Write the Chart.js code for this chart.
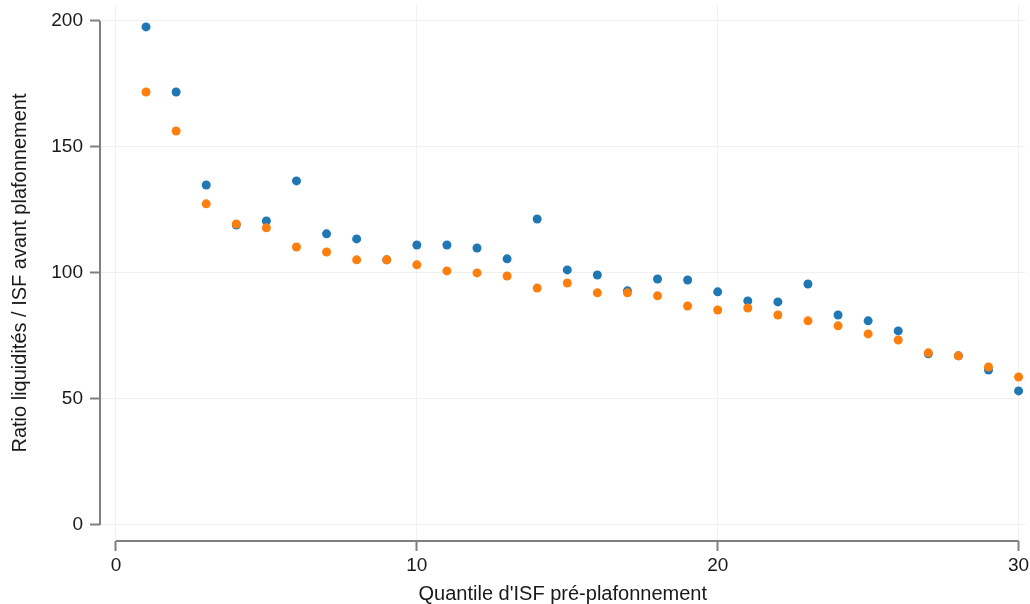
<!DOCTYPE html>
<html>
<head>
<meta charset="utf-8">
<script src="https://cdn.jsdelivr.net/npm/chart.js@4"></script>
<style>
    html, body { margin: 0; padding: 0; background: #fff; }
    #wrap { width: 1030px; height: 604px; position: relative; }
</style>
</head>
<body>
<div id="wrap"><canvas id="ratio_chart"></canvas></div>
<script>
// Quantiles d'ISF (1..30)
var quantiles = [1, 2, 3, 4, 5, 6, 7, 8, 9, 10, 11, 12, 13, 14, 15,
                 16, 17, 18, 19, 20, 21, 22, 23, 24, 25, 26, 27, 28, 29, 30]

// Serie bleue
var seriesBlue = [197.6, 171.8, 134.9, 119.0, 120.6, 136.5, 115.5, 113.5, 105.2, 111.1,
                  111.1, 109.9, 105.6, 121.4, 101.2, 99.2, 92.9, 97.6, 97.2, 92.5,
                  88.9, 88.5, 95.6, 83.3, 81.0, 77.0, 67.9, 67.1, 61.5, 53.2]

// Serie orange
var seriesOrange = [171.8, 156.3, 127.4, 119.4, 117.9, 110.3, 108.3, 105.2, 105.2, 103.2,
                    100.8, 100.0, 98.8, 94.0, 96.0, 92.1, 92.1, 90.9, 86.9, 85.3,
                    86.1, 83.3, 81.0, 79.0, 75.8, 73.4, 68.3, 67.1, 62.7, 58.7]

var xTicks = [0, 10, 20, 30]
var yTicks = [0, 50, 100, 150, 200]

var axisColor = '#808080'
var gridColor = '#f0f0f0'

function toPoints(values) {
    return quantiles.map(function (q, i) {
        return { x: q, y: values[i] }
    })
}

// Stata-like axis lines that only span the tick range
var axisLines = {
    id: 'axisLines',
    afterDraw: function (chart) {
        var ctx = chart.ctx
        var xs = chart.scales.x
        var ys = chart.scales.y
        var area = chart.chartArea
        ctx.save()
        ctx.strokeStyle = axisColor
        ctx.lineWidth = 2
        ctx.beginPath()
        ctx.moveTo(area.left, ys.getPixelForValue(yTicks[yTicks.length - 1]))
        ctx.lineTo(area.left, ys.getPixelForValue(yTicks[0]))
        ctx.moveTo(xs.getPixelForValue(xTicks[0]), area.bottom)
        ctx.lineTo(xs.getPixelForValue(xTicks[xTicks.length - 1]), area.bottom)
        ctx.stroke()
        ctx.restore()
    }
}

Chart.defaults.font.family = '"Liberation Sans", Arial, sans-serif'
Chart.defaults.color = '#1a1a1a'

var ctx = document.getElementById('ratio_chart')

new Chart(ctx, {
    type: 'scatter',
    data: {
        datasets: [
            {
                label: 'Bleu',
                data: toPoints(seriesBlue),
                backgroundColor: '#1f77b4',
                borderWidth: 0,
                pointRadius: 4.5,
                order: 2
            },
            {
                label: 'Orange',
                data: toPoints(seriesOrange),
                backgroundColor: '#ff7f0e',
                borderWidth: 0,
                pointRadius: 4.5,
                order: 1
            }
        ]
    },
    options: {
        responsive: true,
        maintainAspectRatio: false,
        animation: false,
        layout: { padding: { top: 5, right: 0, left: 0, bottom: 0 } },
        plugins: {
            legend: { display: false },
            tooltip: { enabled: false }
        },
        scales: {
            x: {
                type: 'linear',
                min: -0.53,
                max: 30.23,
                afterBuildTicks: function (scale) {
                    scale.ticks = xTicks.map(function (v) { return { value: v } })
                },
                afterFit: function (scale) {
                    scale.height = 63
                    scale.paddingLeft = 0
                    scale.paddingRight = 0
                },
                border: { display: false },
                grid: {
                    color: gridColor,
                    lineWidth: 1,
                    tickColor: axisColor,
                    tickWidth: 2,
                    tickLength: 10
                },
                ticks: {
                    font: { size: 19 },
                    padding: 3,
                    maxRotation: 0
                },
                title: {
                    display: true,
                    text: "Quantile d'ISF pré-plafonnement",
                    font: { size: 20, lineHeight: 1 },
                    padding: { top: 0, bottom: 0 }
                }
            },
            y: {
                type: 'linear',
                min: -6.35,
                max: 206.3,
                afterBuildTicks: function (scale) {
                    scale.ticks = yTicks.map(function (v) { return { value: v } })
                },
                afterFit: function (scale) {
                    scale.width = 100
                    scale.paddingTop = 0
                    scale.paddingBottom = 0
                },
                border: { display: false },
                grid: {
                    color: gridColor,
                    lineWidth: 1,
                    tickColor: axisColor,
                    tickWidth: 2,
                    tickLength: 10
                },
                ticks: {
                    font: { size: 19 },
                    padding: 7
                },
                title: {
                    display: true,
                    text: 'Ratio liquidités / ISF avant plafonnement',
                    font: { size: 20, lineHeight: 1 },
                    padding: { top: 10, bottom: 0 }
                }
            }
        }
    },
    plugins: [axisLines]
})
</script>
</body>
</html>
